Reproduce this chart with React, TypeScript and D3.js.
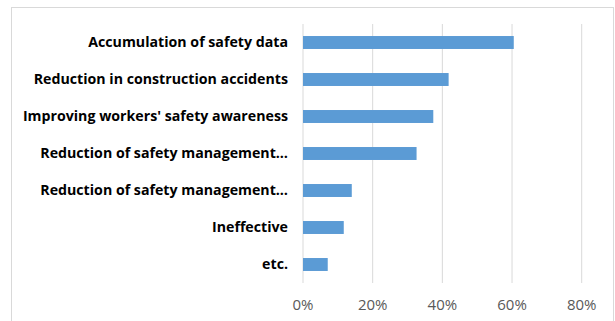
import React from "react";
import * as d3 from "d3";

const categories = [
  "Accumulation of safety data",
  "Reduction in construction accidents",
  "Improving workers' safety awareness",
  "Reduction of safety management…",
  "Reduction of safety management…",
  "Ineffective",
  "etc.",
];
const values = [60.5, 41.8, 37.4, 32.6, 14.0, 11.7, 7.1];
const ticks = [0, 20, 40, 60, 80];

export default function App() {
  const W = 615, H = 321;
  const x = d3.scaleLinear().domain([0, 80]).range([303, 581.7]);
  const y = d3.scaleBand().domain(categories.map((c, i) => String(i))).range([24, 283]).paddingInner(0.65).paddingOuter(0.325);
  return (
    <svg width={W} height={H} style={{ position: "absolute", left: 0, top: 0, background: "#fff" }}>
      <rect x={11.5} y={7.5} width={602} height={320} fill="#fff" stroke="#d9d9d9" strokeWidth={1} />
      {ticks.map((t) => (
        <line key={t} x1={x(t)} x2={x(t)} y1={24} y2={283} stroke="#d9d9d9" strokeWidth={1} />
      ))}
      {values.map((v, i) => (
        <rect key={i} x={x(0)} y={y(String(i))} width={x(v) - x(0)} height={y.bandwidth()} fill="#5b9bd5" />
      ))}
      {categories.map((c, i) => (
        <text key={i} x={288} y={(y(String(i)) as number) + y.bandwidth() / 2} dy="0.35em" textAnchor="end"
          fontFamily="'Open Sans', sans-serif" fontWeight="bold" fontSize={14.2} fill="#000">{c}</text>
      ))}
      {ticks.map((t) => (
        <text key={t} x={x(t)} y={305} dy="0.35em" textAnchor="middle" fontFamily="'Open Sans', sans-serif"
          fontSize={15} fill="#595959">{t + "%"}</text>
      ))}
    </svg>
  );
}
